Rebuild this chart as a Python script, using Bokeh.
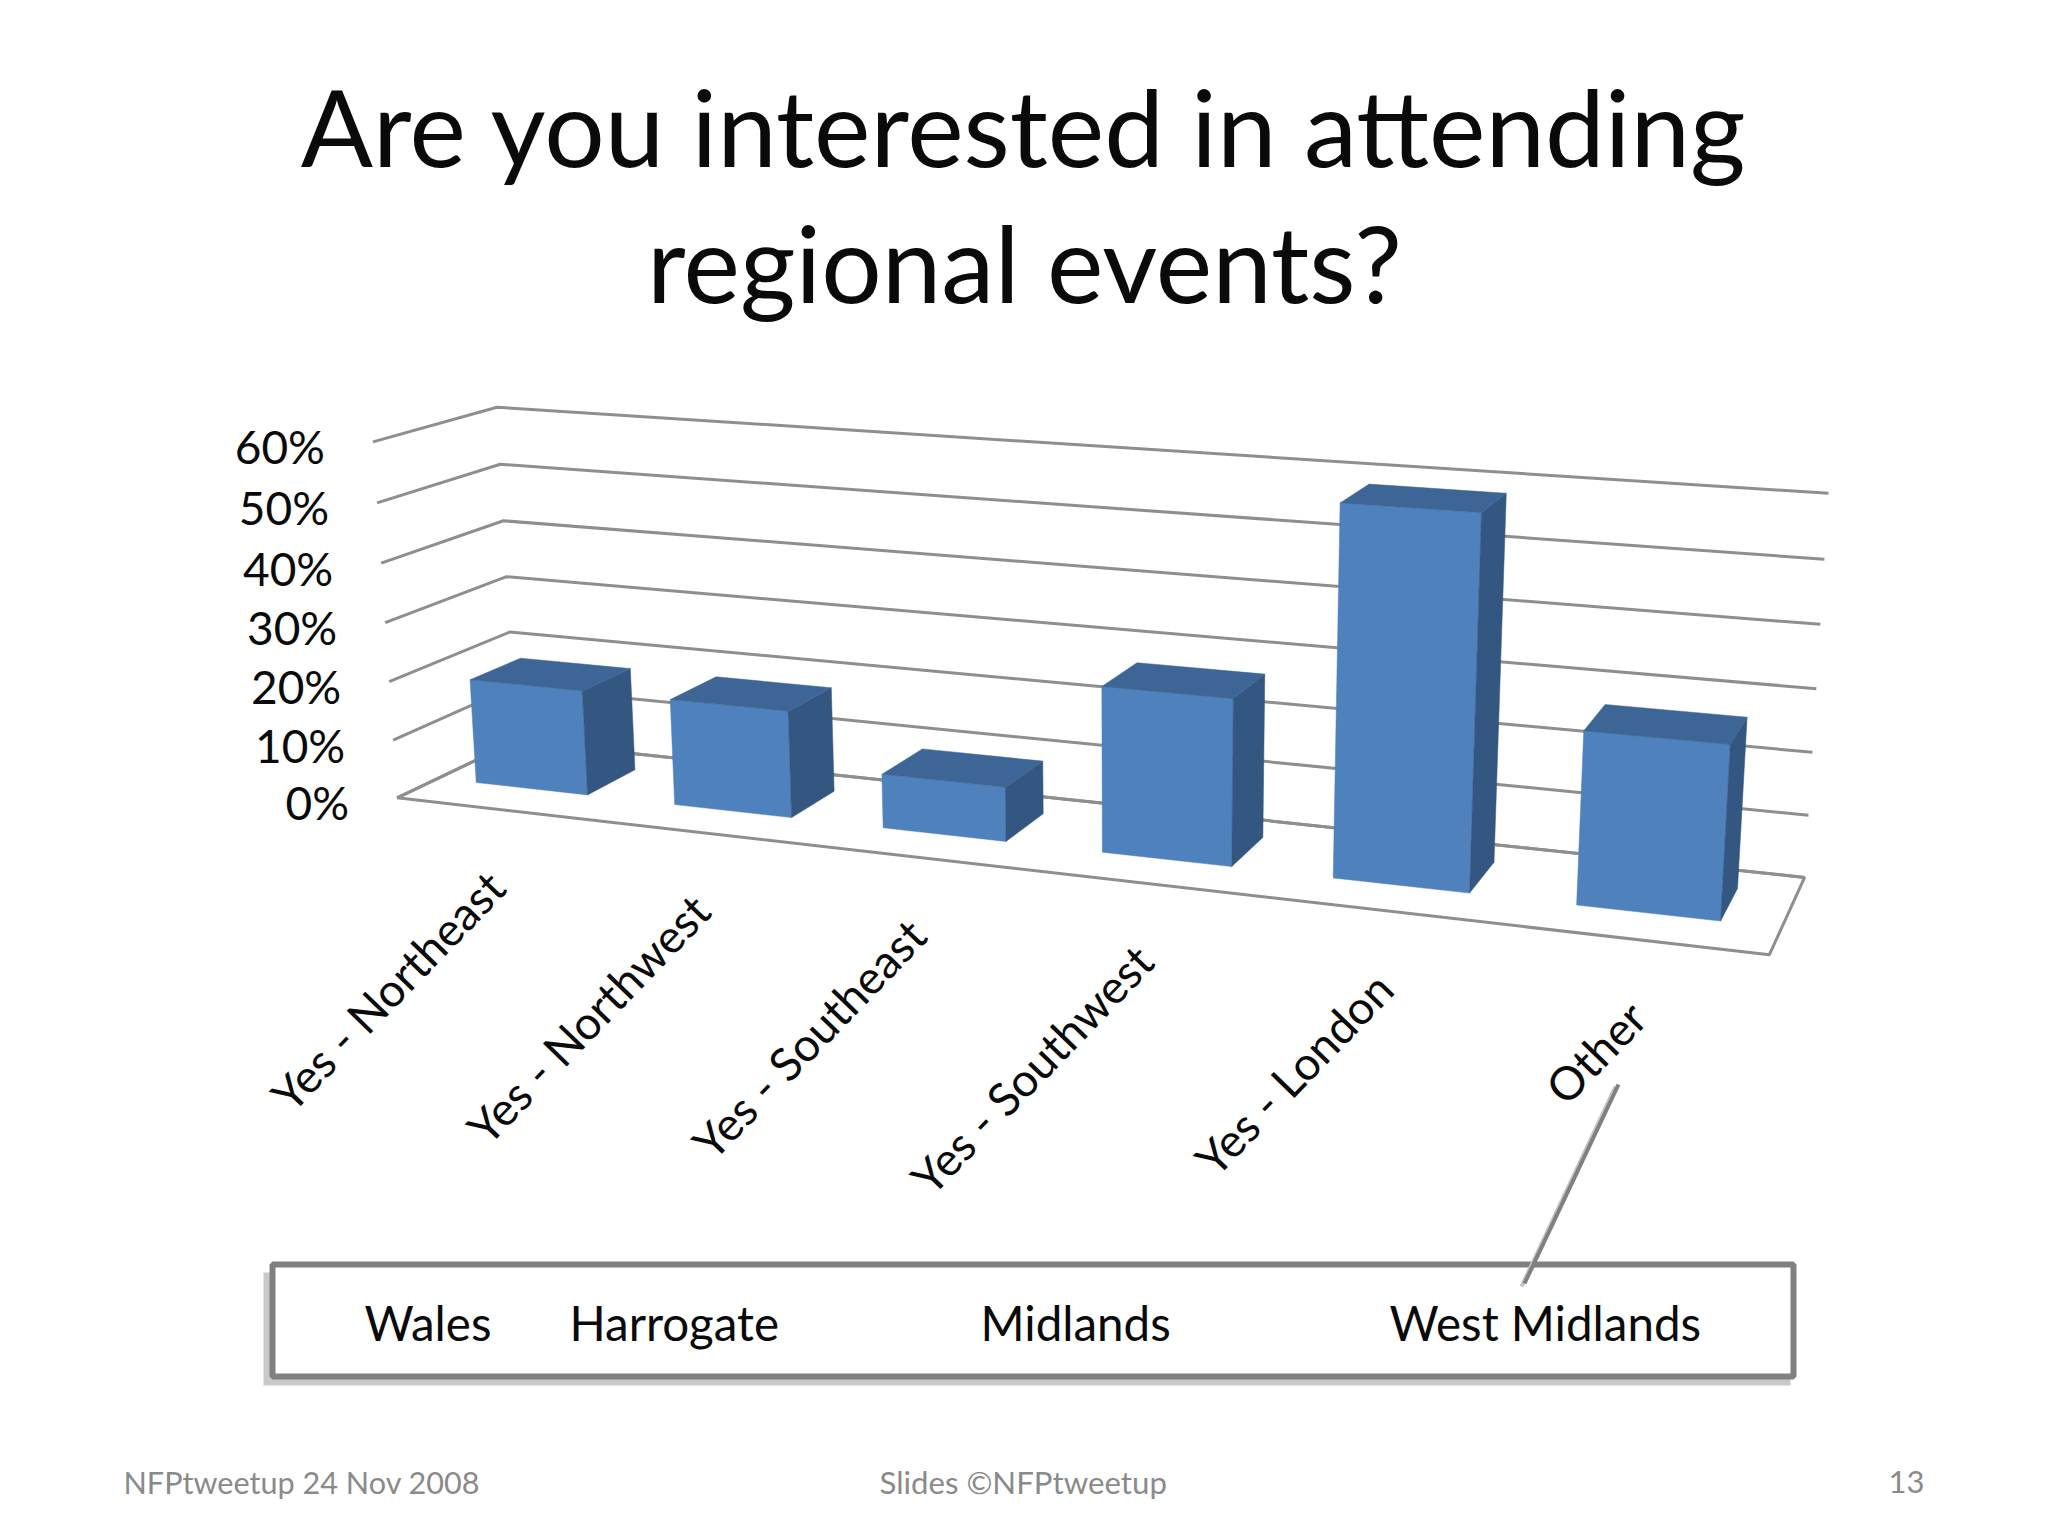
import numpy as np
from bokeh.plotting import figure
from bokeh.models import Range1d
from bokeh.core.properties import value
from bokeh.embed import file_html
from bokeh.resources import INLINE

title_lines = ["Are you interested in attending", "regional events?"]
categories = ["Yes - Northeast", "Yes - Northwest", "Yes - Southeast", "Yes - Southwest", "Yes - London", "Other"]
percent = [18, 18, 9, 27, 58.5, 27]
ticks = [0, 10, 20, 30, 40, 50, 60]
tick_labels = ["0%", "10%", "20%", "30%", "40%", "50%", "60%"]
callout_words = ["Wales", "Harrogate", "Midlands", "West Midlands"]
footer_texts = ["NFPtweetup 24 Nov 2008", "Slides \u00a9NFPtweetup", "13"]

FONT = "Lato"
BLACK = "#0a0a0a"
GRID = "#8e8e8e"
FRONT, TOP, SIDE = "#4f81bd", "#3d6696", "#345781"

# camera calibration: (category fraction, depth, percent) -> page pixel
cam_world = [(0,0,0),(0,0,60),(0,1,0),(0,1,60),(1,1,0),(1,1,60),(1,0,0)]
cam_page = [(396,796),(373,442),(516,742),(496,406),(1804,876),(1828,493),(1769,955)]
rows, rhs = [], []
for (a, b, c), (sx, sy) in zip(cam_world, cam_page):
    rows.append([a, b, c, 1, 0, 0, 0, 0, -sx*a, -sx*b, -sx*c]); rhs.append(sx)
    rows.append([0, 0, 0, 0, a, b, c, 1, -sy*a, -sy*b, -sy*c]); rhs.append(sy)
P = np.append(np.linalg.lstsq(np.array(rows, float), np.array(rhs, float), rcond=None)[0], 1.0).reshape(3, 4)

def proj(u, d, v):
    q = P @ np.array([u, d, v, 1.0])
    return float(q[0]/q[2]), float(q[1]/q[2])

def path(pts):
    xy = [proj(*w) for w in pts]
    return [a for a, _ in xy], [b for _, b in xy]

p = figure(width=2032, height=1520, x_range=Range1d(0, 2032), y_range=Range1d(1520, 0),
           output_backend="svg", toolbar_location=None, min_border=0,
           background_fill_color="white", border_fill_color="white")
p.axis.visible = False
p.grid.visible = False
p.outline_line_color = None

def label(x, y, text, size, color=BLACK, align="center", base="alphabetic", angle=0):
    # Bokeh's svg alphabetic placement sits low: lift by a share of the font size
    if base == "alphabetic":
        y -= 0.39 * size
    p.text([x], [y], text=[text], text_font=value(FONT), text_font_size=f"{size}px", text_color=color,
           text_align=align, text_baseline=base, angle=angle, angle_units="deg")

# title
for text, y in zip(title_lines, [167, 303]):
    label(1024, y, text, 106.8)

# gridlines on the walls, floor outline
for t in ticks:
    xs, ys = path([(0, 0, t), (0, 1, t), (1, 1, t)])
    p.line(xs, ys, line_color=GRID, line_width=3)
xs, ys = path([(0,0,0),(1,0,0),(1,1,0),(0,1,0),(0,0,0)])
p.line(xs, ys, line_color=GRID, line_width=3)

# tick labels follow the front edge of the side wall
for t, lab in zip(ticks, tick_labels):
    x, y = proj(0, 0, t)
    label(x - 48, y + 5, lab, 46, align="right", base="middle")

# bars
n = len(categories)
BAR_START, BAR_END = 0.198, 0.765
D0, D1 = 0.33, 0.76
for i, val in enumerate(percent):
    u0, u1 = (i + BAR_START)/n, (i + BAR_END)/n
    faces = [
        ([(u0,D0,0),(u1,D0,0),(u1,D0,val),(u0,D0,val)], FRONT),
        ([(u1,D0,0),(u1,D1,0),(u1,D1,val),(u1,D0,val)], SIDE),
        ([(u0,D0,val),(u1,D0,val),(u1,D1,val),(u0,D1,val)], TOP),
    ]
    for pts, col in faces:
        xs, ys = path(pts)
        p.patch(xs, ys, fill_color=col, line_color=col, line_width=0.5)
    x, y = proj((i + 0.5)/n, 0, 0)
    label(x, y + 69.5, categories[i], 46, align="right", base="middle", angle=46)

# callout
p.quad(left=[263], right=[1790], top=[1272], bottom=[1385], fill_color="#c9c9c9", line_color=None)
p.quad(left=[272], right=[1793], top=[1264], bottom=[1376], fill_color="white", line_color="#808080", line_width=6)
p.line([1615, 1521], [1086, 1286], line_color="#c4c4c4", line_width=4)
p.line([1618, 1524], [1084, 1283], line_color="#808080", line_width=4)
for word, x in zip(callout_words, [364, 569, 980, 1389]):
    label(x, 1341, word, 47.5, align="left")

# footer
FOOT = "#8a8a8a"
label(123, 1494, footer_texts[0], 30.6, FOOT, "left")
label(879, 1494, footer_texts[1], 31.2, FOOT, "left")
label(1924, 1494, footer_texts[2], 31, FOOT, "right")

open("out.html", "w").write(file_html(p, INLINE))
